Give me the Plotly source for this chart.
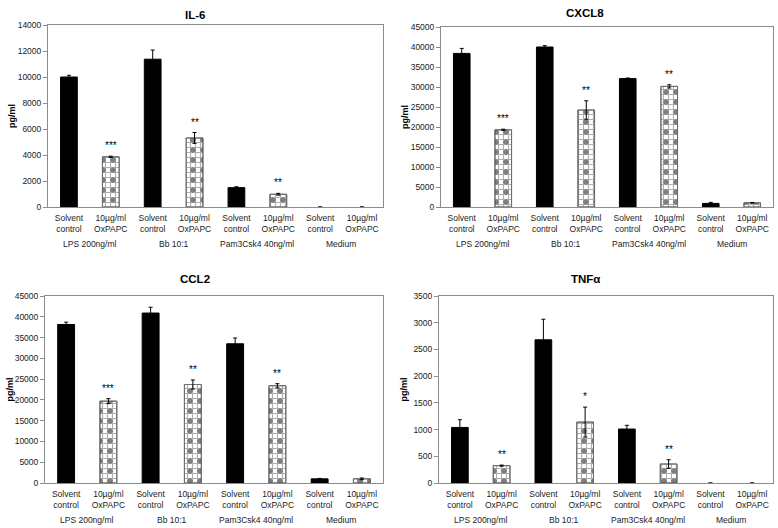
import plotly.graph_objects as go
from plotly.subplots import make_subplots

W, H = 778, 528

groups = ['LPS 200ng/ml', 'Bb 10:1', 'Pam3Csk4 40ng/ml', 'Medium']
subs = ['Solvent<br>control', '10µg/ml<br>OxPAPC']

il6 = [10000, 3860, 11370, 5310, 1490, 980, 0, 0]
il6_err = [130, 50, 700, 420, 70, 70, None, None]
il6_sig = ['', '***', '', '**', '', '**', '', '']

cxcl8 = [38400, 19300, 40000, 24250, 32100, 30150, 900, 1050]
cxcl8_err = [1250, 150, 330, 2300, 150, 400, 250, 80]
cxcl8_sig = ['', '***', '', '**', '', '**', '', '']

ccl2 = [38150, 19700, 40900, 23700, 33500, 23400, 1000, 1000]
ccl2_err = [550, 600, 1400, 1100, 1400, 500, 100, 200]
ccl2_sig = ['', '***', '', '**', '', '**', '', '']

tnf = [1040, 325, 2680, 1140, 1010, 355, 0, 0]
tnf_err = [145, 10, 385, 280, 70, 80, None, None]
tnf_sig = ['', '**', '', '*', '', '**', '', '']

panels = [
    ('IL-6', il6, il6_err, il6_sig, 14000, 2000),
    ('CXCL8', cxcl8, cxcl8_err, cxcl8_sig, 45000, 5000),
    ('CCL2', ccl2, ccl2_err, ccl2_sig, 45000, 5000),
    ('TNFα', tnf, tnf_err, tnf_sig, 3500, 500),
]

# plot boxes in pixels: left, right, top, bottom
boxes = [(48, 383, 25, 207), (441, 773, 27, 207), (45, 383, 296, 483), (439, 773, 296, 483)]
title_pos = [(195, 15), (585, 13), (195, 279), (585, 279)]

FONT = 'Liberation Sans, Arial, sans-serif'
GRAY = '#8c8c8c'

fig = make_subplots(rows=2, cols=2)

ticktext = [subs[i % 2] for i in range(8)]
xs = list(range(8))

for k, (name, vals, errs, sig, ymax, dtick) in enumerate(panels):
    r, c = k // 2 + 1, k % 2 + 1
    solv_x, solv_y, solv_e = xs[0::2], vals[0::2], errs[0::2]
    ox_x, ox_y, ox_e = xs[1::2], vals[1::2], errs[1::2]
    # no outline on empty bars
    solv_lw = [1 if v > 0 else 0 for v in solv_y]
    ox_lw = [1 if v > 0 else 0 for v in ox_y]
    fig.add_trace(go.Bar(
        x=solv_x, y=solv_y, width=0.4,
        marker=dict(color='black', line=dict(color='black', width=solv_lw)),
        error_y=dict(type='data', array=solv_e, color='black', thickness=1, width=2),
        showlegend=False, hoverinfo='y'), row=r, col=c)
    # checkered fill: gray grid + black dots in alternate cells
    fig.add_trace(go.Bar(
        x=ox_x, y=ox_y, width=0.4,
        marker=dict(color='white', line=dict(color='#6e6e6e', width=ox_lw),
                    pattern=dict(shape='+', fgcolor='#5e5e5e', bgcolor='white', size=5, solidity=0.4)),
        showlegend=False, hoverinfo='skip'), row=r, col=c)
    fig.add_trace(go.Bar(
        x=ox_x, y=ox_y, width=0.4,
        marker=dict(color='rgba(0,0,0,0)', line=dict(color='#6e6e6e', width=ox_lw),
                    pattern=dict(shape='.', fgcolor='black', bgcolor='rgba(0,0,0,0)',
                                 size=10, solidity=0.2, fillmode='overlay')),
        error_y=dict(type='data', array=ox_e, color='black', thickness=1, width=2),
        showlegend=False, hoverinfo='y'), row=r, col=c)

    xa = 'x' if k == 0 else 'x%d' % (k + 1)
    ya = 'y' if k == 0 else 'y%d' % (k + 1)
    L, R, T, B = boxes[k]
    fig.update_xaxes(domain=[L / W, R / W], range=[-0.5, 7.5], tickvals=xs, ticktext=ticktext,
                     ticks='', ticklabelstandoff=3, showline=True, linecolor=GRAY, linewidth=1,
                     mirror=True, showgrid=False, zeroline=False, automargin=False,
                     tickfont=dict(family=FONT, size=8.5, color='#222'), row=r, col=c)
    fig.update_yaxes(domain=[1 - B / H, 1 - T / H], range=[0, ymax], dtick=dtick, tickformat='d',
                     ticks='outside', ticklen=4, tickcolor=GRAY, showline=True, linecolor=GRAY,
                     linewidth=1, mirror=True, showgrid=False, zeroline=False, automargin=False,
                     tickfont=dict(family=FONT, size=8.5, color='#222'), row=r, col=c)

    # category dividers below the axis
    for b in range(9):
        edge = b - 0.5
        fig.add_shape(type='line', xref=xa, yref=ya, ysizemode='pixel', yanchor=0,
                      x0=edge, x1=edge, y0=0, y1=-42 if b % 2 == 0 else -29,
                      line=dict(color='#a6a6a6', width=1))
    for g, gname in enumerate(groups):
        fig.add_annotation(x=2 * g + 0.5, y=0, xref=xa, yref=ya, yshift=-37, text=gname,
                           xanchor='center', yanchor='middle', showarrow=False,
                           font=dict(family=FONT, size=8.5, color='#222'))
    for i in range(8):
        if sig[i]:
            fig.add_annotation(x=i, y=vals[i] + errs[i], xref=xa, yref=ya, yshift=3,
                               xanchor='center', yanchor='bottom', text=sig[i], showarrow=False,
                               font=dict(family=FONT, size=10, color='black'))

    tx, ty = title_pos[k]
    fig.add_annotation(x=tx / W, y=1 - ty / H, xref='paper', yref='paper', text='<b>%s</b>' % name,
                       xanchor='center', yanchor='middle', showarrow=False,
                       font=dict(family=FONT, size=11.5, color='black'))
    fig.add_annotation(x=(L - 36) / W, y=1 - (T + B) / 2 / H, xref='paper', yref='paper',
                       text='<b>pg/ml</b>', textangle=-90, xanchor='center', yanchor='middle',
                       showarrow=False, font=dict(family=FONT, size=9, color='black'))

fig.update_layout(
    width=W, height=H, margin=dict(l=0, r=0, t=0, b=0, autoexpand=False),
    barmode='overlay', plot_bgcolor='white', paper_bgcolor='white',
    font=dict(family=FONT),
)
fig.write_html('out.html', config={'displayModeBar': False},
               post_script="document.body.style.margin='0px';")
